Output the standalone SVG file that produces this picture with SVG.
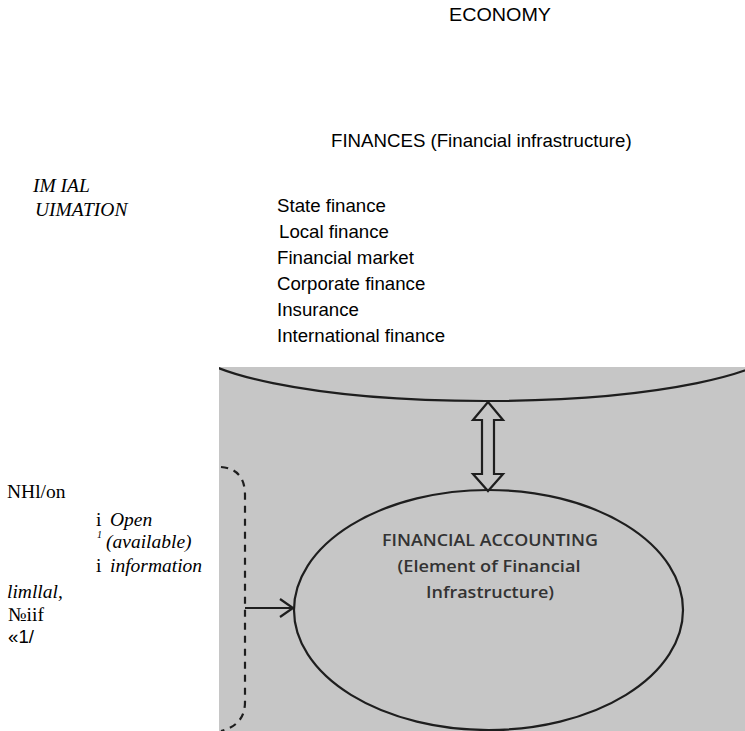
<svg xmlns="http://www.w3.org/2000/svg" width="745" height="731" viewBox="0 0 745 731">
  <style>
    .sans { font-family: "Liberation Sans", Arial, sans-serif; font-size: 18.67px; fill: #000; }
    .serif { font-family: "Liberation Serif", "Times New Roman", serif; font-size: 19.5px; fill: #000; }
    .it { font-style: italic; }
    .sup { font-size: 10px; }
    .scan { font-family: "Open Sans", "Noto Sans", sans-serif; font-size: 17px; font-weight: 600; fill: #333; }
    .ink { fill: none; stroke: #1e1e1e; stroke-width: 2.2; }
  </style>
  <defs>
    <clipPath id="photo">
      <rect x="219" y="367" width="526" height="364"/>
    </clipPath>
  </defs>
  <rect width="745" height="731" fill="#fff"/>
  <rect x="219" y="367" width="526" height="364" fill="#c6c6c6"/>

  <g id="economy">
    <text class="sans" x="500" y="21" text-anchor="middle" textLength="102" lengthAdjust="spacingAndGlyphs">ECONOMY</text>
  </g>

  <g id="finances">
    <text class="sans" x="331" y="147">FINANCES (Financial infrastructure)</text>
    <text class="sans" x="277" y="212">State finance</text>
    <text class="sans" x="279" y="238">Local finance</text>
    <text class="sans" x="277" y="264">Financial market</text>
    <text class="sans" x="277" y="290">Corporate finance</text>
    <text class="sans" x="277" y="316">Insurance</text>
    <text class="sans" x="277" y="342">International finance</text>
    <ellipse class="ink" cx="485" cy="340" rx="300" ry="61" clip-path="url(#photo)"/>
  </g>

  <g id="information-label">
    <text class="serif it" x="33" y="192">IM IAL</text>
    <text class="serif it" x="35" y="216">UIMATION</text>
  </g>

  <g id="side-labels">
    <text class="serif" x="7" y="498">NHl/on</text>
    <text class="serif" x="96" y="526">i <tspan class="it" x="110">Open</tspan></text>
    <text class="serif it sup" x="97" y="538">1</text>
    <text class="serif it" x="106" y="548">(available)</text>
    <text class="serif" x="96" y="572">i <tspan class="it" x="110">information</tspan></text>
    <text class="serif it" x="7" y="598">limllal,</text>
    <text class="serif" x="8" y="621">№iif</text>
    <text class="sans" x="8" y="643">«1/</text>
    <path class="ink" d="M221,467 Q245,469 245,495 L245,702 Q245,725 221,731" stroke-width="2.6" stroke-dasharray="7 6"/>
  </g>

  <g id="financial-accounting">
    <ellipse class="ink" cx="488.5" cy="610" rx="194.5" ry="120"/>
    <text class="scan" x="490" y="546" text-anchor="middle" textLength="216" lengthAdjust="spacingAndGlyphs">FINANCIAL ACCOUNTING</text>
    <text class="scan" x="489" y="572" text-anchor="middle" textLength="183" lengthAdjust="spacingAndGlyphs">(Element of Financial</text>
    <text class="scan" x="490" y="598" text-anchor="middle" textLength="128" lengthAdjust="spacingAndGlyphs">Infrastructure)</text>
  </g>

  <g id="connectors">
    <path class="ink" d="M488,402 L503,420 L494,420 L494,474 L503,474 L488,491 L473,474 L482,474 L482,420 L473,420 Z" stroke-width="2"/>
    <path class="ink" d="M245,608 L292,608 M280,599 L293,608 L280,617" stroke-width="2.5"/>
  </g>
</svg>
